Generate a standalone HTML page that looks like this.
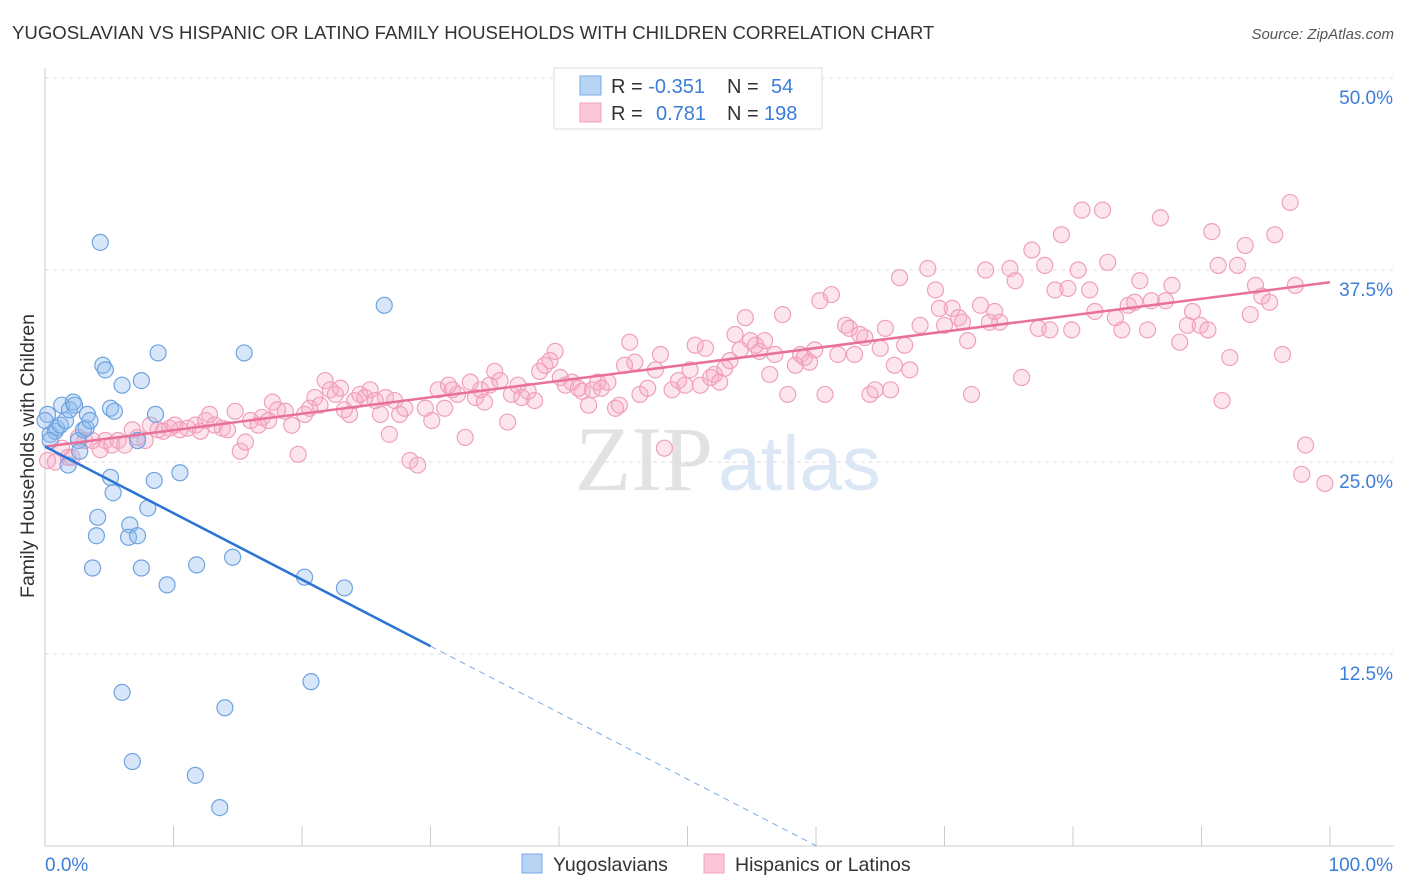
<!DOCTYPE html>
<html><head><meta charset="utf-8"><style>
body{margin:0;background:#fff;font-family:"Liberation Sans",sans-serif;}
svg{display:block}
</style></head><body>
<svg id="chart" width="1406" height="892">
<text x="12" y="39" font-size="18.6" fill="#333">YUGOSLAVIAN VS HISPANIC OR LATINO FAMILY HOUSEHOLDS WITH CHILDREN CORRELATION CHART</text>
<text x="1394" y="39" font-size="15" fill="#555" font-style="italic" text-anchor="end">Source: ZipAtlas.com</text>
<text x="713" y="490" font-size="92" fill="#e2e2e2" font-family="Liberation Serif,serif" text-anchor="end">ZIP</text>
<text x="718" y="490" font-size="77" fill="#dbe7f5">atlas</text>
<g id="grid"></g>
<g id="axes"></g>
<g id="pts"></g>
<g id="lines"></g>
<text transform="translate(34,456) rotate(-90)" font-size="19.5" fill="#333" text-anchor="middle">Family Households with Children</text>
<g>
<rect x="554" y="68" width="268" height="61" fill="#fff" stroke="#ddd"/>
<rect x="580" y="76" width="21" height="19" fill="#b8d4f5" stroke="#7aaae6"/>
<rect x="580" y="103" width="21" height="19" fill="#fcc8d8" stroke="#f0a0bc"/>
<text x="611" y="93" font-size="20" fill="#333">R = <tspan fill="#3b7dd8">-0.351</tspan><tspan x="727">N = </tspan><tspan x="771" fill="#3b7dd8">54</tspan></text>
<text x="611" y="120" font-size="20" fill="#333">R = <tspan x="656" fill="#3b7dd8">0.781</tspan><tspan x="727">N = </tspan><tspan x="764" fill="#3b7dd8">198</tspan></text>
</g>
<g>
<rect x="522" y="854" width="20" height="19" fill="#b8d4f5" stroke="#7aaae6"/>
<text x="553" y="871" font-size="19.5" fill="#333">Yugoslavians</text>
<rect x="704" y="854" width="20" height="19" fill="#fcc8d8" stroke="#f0a0bc"/>
<text x="735" y="871" font-size="19.5" fill="#333">Hispanics or Latinos</text>
</g>
</svg>
<script>
const yTicks=[12.5,25,37.5,50];
const yTickLabels=["12.5%","25.0%","37.5%","50.0%"];
const xTicks=[0,10,20,30,40,50,60,70,80,90,100];
const blueX=[0.2,0.4,0.8,0.9,1.2,1.3,1.6,1.8,1.9,2.2,2.3,2.6,2.7,3.0,3.2,3.3,3.5,4.3,4.5,4.7,5.1,5.4,5.1,5.3,4.1,4.0,3.7,6.0,7.5,8.8,8.6,7.2,8.0,8.5,6.6,6.5,7.2,7.5,9.5,10.5,11.8,14.6,15.5,20.2,23.3,26.4,6.0,14.0,20.7,6.8,11.7,13.6,0.4,0.0];
const blueY=[28.1,26.8,27.0,27.2,27.4,28.7,27.7,24.8,28.4,28.9,28.7,26.4,25.7,27.1,27.2,28.1,27.7,39.3,31.3,31.0,28.5,28.3,24.0,23.0,21.4,20.2,18.1,30.0,30.3,32.1,28.1,26.4,22.0,23.8,20.9,20.1,20.2,18.1,17.0,24.3,18.3,18.8,32.1,17.5,16.8,35.2,10.0,9.0,10.7,5.5,4.6,2.5,26.4,27.7];
const pinkX=[0.2,0.8,1.3,1.8,2.1,2.6,3.1,3.7,4.3,4.7,5.2,5.7,6.2,6.8,7.2,7.8,8.2,8.8,9.2,9.7,10.1,10.5,11.1,11.7,12.1,12.5,12.8,13.2,13.8,14.2,14.8,15.2,15.6,16.0,16.6,16.9,17.4,17.7,18.1,18.7,19.2,19.7,20.2,20.6,21.0,21.4,21.8,22.2,22.6,23.0,23.3,23.7,24.1,24.5,24.9,25.3,25.7,26.1,26.5,26.8,27.2,27.6,28.0,28.4,29.0,29.6,30.1,30.6,31.1,31.4,31.7,32.1,32.7,33.1,33.5,33.9,34.2,34.6,35.0,35.4,36.0,36.3,36.8,37.1,37.6,38.1,38.5,38.9,39.3,39.7,40.1,40.5,41.0,41.5,41.8,42.3,42.6,43.0,43.3,43.8,44.4,44.7,45.1,45.5,45.9,46.3,46.9,47.5,47.9,48.2,48.8,49.3,49.8,50.2,50.6,51.0,51.4,51.8,52.1,52.5,52.9,53.3,53.7,54.1,54.5,54.9,55.3,55.6,56.0,56.4,56.8,57.4,57.8,58.4,58.8,59.1,59.5,59.9,60.3,60.7,61.2,61.7,62.3,62.6,63.0,63.4,63.8,64.2,64.6,65.0,65.4,65.8,66.1,66.5,66.9,67.3,68.1,68.7,69.3,69.6,70.0,70.6,71.1,71.4,71.8,72.1,72.8,73.2,73.5,73.9,74.3,75.1,75.5,76.0,76.8,77.3,77.8,78.2,78.6,79.1,79.6,79.9,80.4,80.7,81.3,81.7,82.3,82.7,83.3,83.8,84.3,84.8,85.2,85.8,86.1,86.8,87.2,87.7,88.3,88.9,89.3,89.9,90.5,90.8,91.3,91.6,92.2,92.8,93.4,93.8,94.2,94.7,95.3,95.7,96.3,96.9,97.3,98.1,97.8,99.6];
const pinkY=[25.1,25.0,25.9,25.3,25.3,26.6,26.4,26.4,25.8,26.4,26.1,26.4,26.1,27.1,26.6,26.4,27.4,27.1,27.0,27.2,27.4,27.1,27.2,27.4,27.0,27.7,28.1,27.4,27.2,27.1,28.3,25.7,26.3,27.7,27.4,27.9,27.7,28.9,28.4,28.3,27.4,25.5,28.1,28.5,29.2,28.7,30.3,29.7,29.4,29.8,28.4,28.1,29.0,29.4,29.2,29.7,29.0,28.1,29.2,26.8,29.0,28.1,28.5,25.1,24.8,28.5,27.7,29.7,28.5,30.0,29.7,29.4,26.6,30.2,29.2,29.7,28.9,30.0,30.9,30.3,27.6,29.4,30.0,29.2,29.6,29.0,30.9,31.3,31.6,32.2,30.5,30.0,30.2,29.8,29.6,28.7,29.7,30.2,29.8,30.2,28.5,28.7,31.3,32.8,31.5,29.4,29.8,31.0,32.0,25.9,29.7,30.3,30.0,31.0,32.6,30.0,32.4,30.5,30.7,30.2,31.1,31.6,33.3,32.3,34.4,32.9,32.6,32.2,32.9,30.7,32.0,34.6,29.4,31.3,32.0,31.8,31.5,32.3,35.5,29.4,35.9,32.0,33.9,33.7,32.0,33.3,33.1,29.4,29.7,32.4,33.7,29.7,31.3,37.0,32.6,31.0,33.9,37.6,36.2,35.0,33.9,35.0,34.4,34.1,32.9,29.4,35.2,37.5,34.1,34.8,34.1,37.6,36.8,30.5,38.8,33.7,37.8,33.6,36.2,39.8,36.3,33.6,37.5,41.4,36.2,34.8,41.4,38.0,34.4,33.6,35.2,35.4,36.8,33.6,35.5,40.9,35.5,36.5,32.8,33.9,34.8,33.9,33.6,40.0,37.8,29.0,31.8,37.8,39.1,34.6,36.5,35.8,35.4,39.8,32.0,41.9,36.5,26.1,24.2,23.6];
const blueFit=[26.0,-0.433];
const pinkFit=[26.0,0.107];
const NS="http://www.w3.org/2000/svg";
const X=v=>45+v*12.85, Y=v=>846-v*15.36;
function mk(tag,attrs,parent){const e=document.createElementNS(NS,tag);for(const k in attrs)e.setAttribute(k,attrs[k]);document.getElementById(parent).appendChild(e);return e;}
yTicks.forEach((t,i)=>{
 const l=mk('line',{x1:45,x2:1394,y1:Y(t),y2:Y(t),stroke:'#ddd','stroke-dasharray':'4,4'},'grid');
 
 
 const tx=mk('text',{x:1393,y:Y(t)+26,'font-size':19,fill:'#3b7dd8','text-anchor':'end'},'grid');
 tx.textContent=yTickLabels[i];
 
 
});
const ax=mk('line',{x1:45,x2:1394,y1:846,y2:846,stroke:'#ccc'},'axes');


const ay=mk('line',{x1:45,x2:45,y1:68,y2:846,stroke:'#ccc'},'axes');


xTicks.forEach(t=>{
 const l=mk('line',{x1:X(t),x2:X(t),y1:826,y2:846,stroke:'#ccc'},'axes');
 
 
});
const x0=mk('text',{x:45,y:871,'font-size':19,fill:'#3b7dd8'},'axes');x0.textContent='0.0%';


const x1=mk('text',{x:1393,y:871,'font-size':19,fill:'#3b7dd8','text-anchor':'end'},'axes');x1.textContent='100.0%';


pinkX.forEach((v,i)=>{
 const c=mk('circle',{cx:X(v),cy:Y(pinkY[i]),r:8,fill:'rgba(248,170,198,0.3)',stroke:'#f0a0bc','stroke-width':1.2},'pts');
 
 
});
blueX.forEach((v,i)=>{
 const c=mk('circle',{cx:X(v),cy:Y(blueY[i]),r:8,fill:'rgba(140,185,238,0.35)',stroke:'#6fa3e0','stroke-width':1.2},'pts');
 
 
});
const pl=mk('line',{x1:X(0),y1:Y(pinkFit[0]),x2:X(100),y2:Y(pinkFit[0]+pinkFit[1]*100),stroke:'#e8719a','stroke-width':2.5},'lines');


const bl=mk('line',{x1:X(0),y1:Y(blueFit[0]),x2:X(30),y2:Y(blueFit[0]+blueFit[1]*30),stroke:'#2a74d6','stroke-width':2.5},'lines');


const xe=-blueFit[0]/blueFit[1];
const bd=mk('line',{x1:X(30),y1:Y(blueFit[0]+blueFit[1]*30),x2:X(xe),y2:Y(0),stroke:'#7aaae6','stroke-width':1,'stroke-dasharray':'6,5'},'lines');


</script>
</body></html>
